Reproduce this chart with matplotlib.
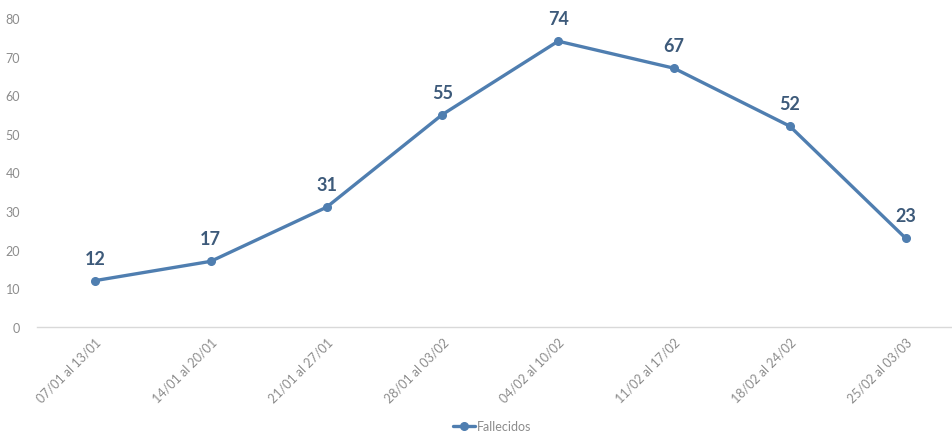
import matplotlib.pyplot as plt

plt.rcParams['font.family'] = ['Lato', 'DejaVu Sans']

# --- Data ---
semanas = ["07/01 al 13/01", "14/01 al 20/01", "21/01 al 27/01", "28/01 al 03/02",
           "04/02 al 10/02", "11/02 al 17/02", "18/02 al 24/02", "25/02 al 03/03"]
fallecidos = [12, 17, 31, 55, 74, 67, 52, 23]

LINE_COLOR = '#4f7eb0'
LABEL_COLOR = '#3d5a7a'
TICK_COLOR = '#8c8c8c'

fig = plt.figure(figsize=(9.53, 4.35), dpi=100)
ax = fig.add_axes([37 / 953, (435 - 328) / 435, 1 - 37 / 953, (328 - 19) / 435])

x = list(range(len(semanas)))
line, = ax.plot(x, fallecidos, color=LINE_COLOR, lw=2.4, marker='o', ms=5.5,
                label='Fallecidos', solid_capstyle='round')

for xi, v in zip(x, fallecidos):
    ax.annotate(str(v), (xi, v), xytext=(0, 10), textcoords='offset points',
                ha='center', va='bottom', fontsize=13, fontweight='bold',
                color=LABEL_COLOR)

ax.set_xlim(-0.5, (953 - 95) / 115.8)
ax.set_ylim(0, 80)
ax.set_yticks(range(0, 81, 10))
ax.set_xticks(x)
ax.set_xticklabels(semanas, rotation=45, ha='right', rotation_mode='anchor')
ax.tick_params(axis='both', length=0, colors=TICK_COLOR, labelsize=9)
ax.tick_params(axis='y', pad=12)
ax.tick_params(axis='x', pad=6)

for side in ['top', 'right', 'left']:
    ax.spines[side].set_visible(False)
ax.spines['bottom'].set_color('#d9d9d9')
ax.spines['bottom'].set_linewidth(1)

fig.legend(handles=[line], loc='center', bbox_to_anchor=(492 / 953, 1 - 427 / 435),
           frameon=False, fontsize=9, labelcolor=TICK_COLOR, handlelength=1.8,
           handletextpad=0.1)

fig.savefig('out.png', dpi=100)
